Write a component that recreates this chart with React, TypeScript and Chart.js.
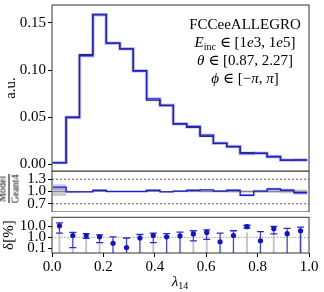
import React, { useEffect, useRef } from "react";
import { Chart, registerables } from "chart.js";
Chart.register(...registerables);

// ---------- data ----------
const binEdges = [0.003, 0.055, 0.107, 0.159, 0.211, 0.264, 0.316, 0.368, 0.42, 0.472, 0.524, 0.576, 0.628, 0.68, 0.732, 0.785, 0.837, 0.889, 0.941, 0.993];

const geant4 = [0.0017, 0.0502, 0.1165, 0.1592, 0.1285, 0.1225, 0.0995, 0.068, 0.063, 0.0428, 0.0392, 0.0298, 0.0222, 0.0186, 0.0125, 0.0117, 0.0079, 0.0045, 0.0047];
const model = [0.0019, 0.0497, 0.1152, 0.1585, 0.1285, 0.1225, 0.099, 0.0695, 0.0624, 0.0432, 0.0402, 0.031, 0.0224, 0.0191, 0.0114, 0.0118, 0.0084, 0.0046, 0.0046];

const ratio = [1.107, 0.99, 0.99, 1.03, 1.0, 1.0, 1.0, 1.03, 0.99, 1.01, 1.03, 1.04, 1.01, 1.03, 0.91, 1.01, 1.06, 1.03, 0.97];
const geant4RatioErr = [0.11, 0.02, 0.012, 0.01, 0.01, 0.01, 0.012, 0.015, 0.015, 0.018, 0.02, 0.022, 0.025, 0.028, 0.03, 0.032, 0.035, 0.045, 0.05];
const modelRatioErr = [0.07, 0.02, 0.012, 0.012, 0.01, 0.01, 0.012, 0.015, 0.015, 0.018, 0.02, 0.022, 0.025, 0.028, 0.03, 0.032, 0.035, 0.045, 0.05];

const delta = [11.6, 1.5, 1.5, 1.14, 0.29, 0.116, 0.88, 1.5, 1.14, 1.37, 2.09, 2.86, 0.4, 1.5, 9.6, 0.48, 6.3, 2.2, 4.1];
const deltaHigh = [21.7, 2.86, 2.2, 1.74, 1.14, 0.88, 1.84, 2.5, 2.2, 3.0, 4.1, 4.96, 2.5, 4.1, 13, 3.4, 10.4, 6.7, 8.6];
const deltaLow = [2.5, 0.116, 0.83, 0.33, 0.01, 0.01, 0.01, 0.33, 0.01, 0.01, 0.48, 0.65, 0.01, 0.01, 7.2, 0.01, 2.09, 0.01, 0.01];
const geant4DeltaTop = [2.5, 0.116, 0.83, 0.33, 0.01, 0.01, 0.01, 0.33, 0.01, 0.01, 0.48, 0.65, 0.01, 0.01, 2.86, 0.01, 2.09, 0.01, 4.0];

const xTicks = [0, 0.2, 0.4, 0.6, 0.8, 1.0];
const xTickLabels = ["0.0", "0.2", "0.4", "0.6", "0.8", "1.0"];
const topTicks = [0, 0.05, 0.1, 0.15];
const topTickLabels = ["0.00", "0.05", "0.10", "0.15"];
const ratioTicks = [0.7, 1.0, 1.3];
const ratioTickLabels = ["0.7", "1.0", "1.3"];
const ratioRefLines = [0.7, 1.3];
const deltaTicks = [0.1, 1, 10];
const deltaTickLabels = ["0.1", "1.0", "10.0"];
const deltaRefLine = 1;
const unity = 1;

// ---------- styling ----------
const W = 324;
const PLOT_LEFT = 52;
const RIGHT_PAD = 15;
const FONT = "'Liberation Serif', 'DejaVu Serif', serif";
const BLUE = "#1c1cd0";

const xMin = 0;
const xMax = 1;

function stepPoints(values: number[]) {
  const pts = values.map((v, i) => ({ x: binEdges[i], y: v }));
  pts.push({ x: binEdges[values.length], y: values[values.length - 1] });
  return pts;
}
const centers = binEdges.slice(0, -1).map((e, i) => (e + binEdges[i + 1]) / 2);

function segments(lo: number[], hi: number[]) {
  const pts: any[] = [];
  centers.forEach((c, i) => {
    pts.push({ x: c, y: lo[i] }, { x: c, y: hi[i] }, { x: c, y: null });
  });
  return pts;
}

const framePlugin = {
  id: "frame",
  afterDraw(chart: any) {
    const { ctx, chartArea: a } = chart;
    ctx.save();
    ctx.strokeStyle = "#333";
    ctx.lineWidth = 1;
    ctx.strokeRect(a.left, a.top, a.right - a.left, a.bottom - a.top);
    ctx.restore();
  },
};

function yAxis(type: string, min: number, max: number, ticks: number[], labels: string[], title?: string, titlePad = 2) {
  return {
    type,
    min,
    max,
    afterBuildTicks: (s: any) => {
      s.ticks = ticks.map((v) => ({ value: v }));
    },
    afterFit: (s: any) => {
      s.width = PLOT_LEFT;
      s.paddingTop = 0;
      s.paddingBottom = 0;
    },
    ticks: {
      autoSkip: false,
      callback: (v: number) => {
        const i = ticks.findIndex((t) => Math.abs(t - v) < 1e-9);
        return i >= 0 ? labels[i] : "";
      },
      color: "#000",
      font: { family: FONT, size: 15 },
      padding: 2,
    },
    grid: { drawOnChartArea: false, drawTicks: true, tickLength: 4, tickColor: "#000" },
    border: { display: false },
    title: title
      ? { display: true, text: title, color: "#000", font: { family: FONT, size: 15 }, padding: { top: titlePad, bottom: 0 } }
      : { display: false },
  };
}

const hiddenX = { type: "linear", min: xMin, max: xMax, display: false };

function baseOptions(scales: any, padding: any) {
  return {
    responsive: false,
    maintainAspectRatio: false,
    animation: false,
    devicePixelRatio: 1,
    events: [],
    layout: { padding },
    plugins: { legend: { display: false }, tooltip: { enabled: false } },
    scales,
  };
}

const lineBase = { pointRadius: 0, fill: false, tension: 0 };

export default function App() {
  const topRef = useRef<HTMLCanvasElement>(null);
  const midRef = useRef<HTMLCanvasElement>(null);
  const botRef = useRef<HTMLCanvasElement>(null);

  useEffect(() => {
    document.body.style.margin = "0";
    const charts: Chart[] = [];

    // ----- top panel -----
    charts.push(
      new Chart(topRef.current!, {
        type: "line",
        data: {
          datasets: [
            { ...lineBase, data: stepPoints(model), stepped: true, borderColor: BLUE, borderWidth: 1.3, order: 0 },
            { ...lineBase, data: stepPoints(model), stepped: true, borderColor: "rgba(90,90,240,0.3)", borderWidth: 3.5, order: 1 },
            { ...lineBase, data: stepPoints(geant4), stepped: true, borderColor: "#202020", borderWidth: 1.2, order: 2 },
            { ...lineBase, data: stepPoints(geant4), stepped: true, borderColor: "rgba(140,140,140,0.22)", borderWidth: 3, order: 3 },
          ],
        } as any,
        options: baseOptions(
          { x: hiddenX, y: yAxis("linear", -0.007, 0.169, topTicks, topTickLabels, "a.u.", 2) },
          { left: 0, right: RIGHT_PAD, top: 5, bottom: 1 }
        ) as any,
        plugins: [framePlugin],
      })
    );

    // ----- ratio panel -----
    const refLineSets = ratioRefLines.map((r, i) => ({
      ...lineBase,
      data: [{ x: xMin, y: r }, { x: xMax, y: r }],
      borderColor: "#444",
      borderWidth: 0.9,
      borderDash: [2, 2],
      order: 6 + i,
    }));
    charts.push(
      new Chart(midRef.current!, {
        type: "line",
        data: {
          datasets: [
            { ...lineBase, data: stepPoints(ratio), stepped: true, borderColor: BLUE, borderWidth: 1.4, order: 0 },
            { ...lineBase, data: [{ x: binEdges[0], y: unity }, { x: binEdges[binEdges.length - 1], y: unity }], borderColor: "#888", borderWidth: 1, order: 1 },
            { ...lineBase, data: stepPoints(ratio.map((r, i) => r - modelRatioErr[i])), stepped: true, borderWidth: 0, order: 2 },
            { ...lineBase, data: stepPoints(ratio.map((r, i) => r + modelRatioErr[i])), stepped: true, borderWidth: 0, fill: "-1", backgroundColor: "rgba(110,110,235,0.35)", order: 2 },
            { ...lineBase, data: stepPoints(geant4RatioErr.map((e) => unity - e)), stepped: true, borderWidth: 0, order: 3 },
            { ...lineBase, data: stepPoints(geant4RatioErr.map((e) => unity + e)), stepped: true, borderWidth: 0, fill: "-1", backgroundColor: "rgba(140,140,140,0.45)", order: 3 },
            ...refLineSets,
          ],
        } as any,
        options: baseOptions(
          { x: hiddenX, y: yAxis("linear", 0.5, 1.5, ratioTicks, ratioTickLabels) },
          { left: 0, right: RIGHT_PAD, top: 0, bottom: 0 }
        ) as any,
        plugins: [framePlugin],
      })
    );

    // ----- delta panel -----
    const caps: any[] = [];
    centers.forEach((c, i) => {
      caps.push({ x: c, y: deltaHigh[i] });
      caps.push({ x: c, y: deltaLow[i] });
    });
    charts.push(
      new Chart(botRef.current!, {
        type: "line",
        data: {
          datasets: [
            { data: centers.map((c, i) => ({ x: c, y: delta[i] })), showLine: false, pointRadius: 2.6, pointBackgroundColor: "#1212cc", pointBorderWidth: 0, order: 0 },
            { data: caps, showLine: false, pointStyle: "line", pointRadius: 3.5, pointBorderColor: "#2a2acc", pointBorderWidth: 1.3, order: 1 },
            { ...lineBase, data: segments(deltaLow, deltaHigh), borderColor: "rgba(35,35,210,0.85)", borderWidth: 1.3, spanGaps: false, order: 2 },
            { ...lineBase, data: segments(deltaLow.map(() => 0.01), geant4DeltaTop), borderColor: "#c6c6c6", borderWidth: 2, spanGaps: false, order: 3 },
            { ...lineBase, data: [{ x: xMin, y: deltaRefLine }, { x: xMax, y: deltaRefLine }], borderColor: "#999", borderWidth: 0.9, borderDash: [1.5, 1.5], order: 4 },
          ],
        } as any,
        options: baseOptions(
          {
            x: {
              type: "linear",
              min: xMin,
              max: xMax,
              afterBuildTicks: (s: any) => {
                s.ticks = xTicks.map((v) => ({ value: v }));
              },
              afterFit: (s: any) => {
                s.height = 39;
                s.paddingLeft = 0;
                s.paddingRight = 0;
              },
              ticks: {
                autoSkip: false,
                maxRotation: 0,
                callback: (v: number) => {
                  const i = xTicks.findIndex((t) => Math.abs(t - v) < 1e-9);
                  return i >= 0 ? xTickLabels[i] : "";
                },
                color: "#000",
                font: { family: FONT, size: 15 },
                padding: 1,
              },
              grid: { drawOnChartArea: false, drawTicks: true, tickLength: 4, tickColor: "#000" },
              border: { display: false },
            },
            y: yAxis("logarithmic", 0.037, 70, deltaTicks, deltaTickLabels, "δ[%]", 0),
          },
          { left: 0, right: RIGHT_PAD, top: 0, bottom: 0 }
        ) as any,
        plugins: [framePlugin],
      })
    );

    return () => charts.forEach((c) => c.destroy());
  }, []);

  const canvasStyle = (top: number, h: number): React.CSSProperties => ({
    position: "absolute",
    left: 0,
    top,
    width: W,
    height: h,
  });
  const annLine = (top: number): React.CSSProperties => ({
    position: "absolute",
    left: 165,
    width: 160,
    top,
    textAlign: "center",
    fontSize: 15,
    lineHeight: "18px",
    whiteSpace: "nowrap",
  });
  const sub: React.CSSProperties = { fontSize: 10, verticalAlign: "-0.3em", lineHeight: 0 };

  return (
    <div style={{ position: "absolute", left: 0, top: 0, width: W, height: 292, fontFamily: FONT, color: "#000", background: "#fff", overflow: "hidden" }}>
      <canvas ref={topRef} width={W} height={172} style={canvasStyle(0, 172)} />
      <canvas ref={midRef} width={W} height={41} style={canvasStyle(171, 41)} />
      <canvas ref={botRef} width={W} height={80} style={canvasStyle(212, 80)} />

      <div style={annLine(14.6)}>FCCeeALLEGRO</div>
      <div style={annLine(32.6)}>
        <i>E</i><span style={sub}>inc</span> ∈ [1<i>e</i>3, 1<i>e</i>5]
      </div>
      <div style={annLine(50.6)}>
        <i>θ</i> ∈ [0.87, 2.27]
      </div>
      <div style={annLine(68.6)}>
        <i>ϕ</i> ∈ [−<i>π</i>, <i>π</i>]
      </div>

      <div
        style={{
          position: "absolute",
          left: 9,
          top: 189,
          transform: "translate(-50%, -50%) rotate(-90deg)",
          fontSize: 10,
          lineHeight: "10px",
          textAlign: "center",
          whiteSpace: "nowrap",
        }}
      >
        <div style={{ padding: "0 1px 1px" }}>Model</div>
        <div style={{ borderTop: "0.8px solid #000", paddingTop: 1 }}>Geant4</div>
      </div>

      <div style={{ position: "absolute", left: 130, width: 100, top: 271.6, textAlign: "center", fontSize: 15, lineHeight: "18px" }}>
        <i>λ</i><span style={sub}>14</span>
      </div>
    </div>
  );
}
